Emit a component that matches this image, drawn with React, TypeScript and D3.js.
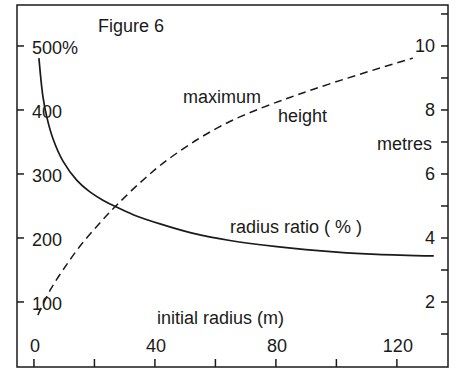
import { useEffect, useRef } from "react"
import * as d3 from "d3"

// radius ratio (%) against initial radius (m)
const ratioRadius = [1.65, 3.0, 4.3, 6.3, 9.6, 14.2, 18.5, 22.8, 26.1, 33, 41.7, 52, 64.8, 80.3, 100.2, 113.4, 132.2]
const ratioValue = [481, 420, 388, 355, 320, 290, 272, 259, 251, 236, 222, 208, 196, 186.5, 178, 174.5, 172]

// maximum height (metres) against initial radius (m)
const heightRadius = [1.3, 5.3, 9.6, 15.2, 21.8, 27.4, 35.0, 42.6, 53.9, 64.8, 75.7, 84.6, 92.2, 103.5, 114.4, 125.3]
const heightValue = [1.59, 2.36, 3.0, 3.74, 4.47, 5.03, 5.72, 6.33, 7.07, 7.64, 8.08, 8.39, 8.64, 8.99, 9.31, 9.62]

const xTicks = [0, 20, 40, 60, 80, 100, 120]
const xLabels = [0, 40, 80, 120]
const leftTicks = [100, 200, 300, 400, 500]
const leftLabels = ["100", "200", "300", "400", "500%"]
const rightTicks = [1, 2, 3, 4, 5, 6, 7, 8, 9, 10, 11]
const rightLabels = [2, 4, 6, 8, 10]

export default function App() {
  const svgRef = useRef<SVGSVGElement>(null)

  useEffect(() => {
    if (!svgRef.current) return
    const width = 457
    const height = 369
    const left = 17
    const right = 448
    const top = 5
    const bottom = 367
    const ink = "#1a1a1a"
    const font = "'Liberation Sans', Arial, sans-serif"

    const svg = d3.select(svgRef.current).attr("width", width).attr("height", height)
    svg.selectAll("*").remove()

    const x = d3.scaleLinear().domain([-5.6, 136.9]).range([left, right])
    const yL = d3.scaleLinear().domain([-1.6, 564]).range([bottom, top])
    const yR = d3.scaleLinear().domain([-0.031, 11.28]).range([bottom, top])

    svg.append("rect").attr("width", width).attr("height", height).attr("fill", "white")

    svg
      .append("rect")
      .attr("x", left)
      .attr("y", top)
      .attr("width", right - left)
      .attr("height", bottom - top)
      .attr("fill", "none")
      .attr("stroke", ink)
      .attr("stroke-width", 1.5)

    // ticks
    svg
      .selectAll(".xt")
      .data(xTicks)
      .enter()
      .append("line")
      .attr("x1", (d) => x(d))
      .attr("x2", (d) => x(d))
      .attr("y1", bottom)
      .attr("y2", bottom - 8)
      .attr("stroke", ink)
      .attr("stroke-width", 1.5)

    svg
      .selectAll(".lt")
      .data(leftTicks)
      .enter()
      .append("line")
      .attr("x1", left)
      .attr("x2", left + 7)
      .attr("y1", (d) => yL(d))
      .attr("y2", (d) => yL(d))
      .attr("stroke", ink)
      .attr("stroke-width", 1.5)

    svg
      .selectAll(".rt")
      .data(rightTicks)
      .enter()
      .append("line")
      .attr("x1", right)
      .attr("x2", right - 7)
      .attr("y1", (d) => yR(d))
      .attr("y2", (d) => yR(d))
      .attr("stroke", ink)
      .attr("stroke-width", 1.5)

    const txt = (s: string, tx: number, ty: number, anchor = "start") =>
      svg
        .append("text")
        .attr("x", tx)
        .attr("y", ty)
        .attr("text-anchor", anchor)
        .attr("font-family", font)
        .attr("font-size", "18px")
        .attr("fill", ink)
        .text(s)

    xLabels.forEach((d) => txt(String(d), x(d) + 1, 352, "middle"))
    leftTicks.forEach((d, i) => txt(leftLabels[i], 32, yL(d) + 8))
    rightLabels.forEach((d) => txt(String(d), 435, yR(d) + 6.5, "end"))

    txt("Figure 6", 98, 32)
    txt("maximum", 183, 103)
    txt("height", 278, 122)
    txt("metres", 432, 150, "end")
    txt("radius ratio ( % )", 230, 233)
    txt("initial radius (m)", 157, 324)

    const ratioLine = d3
      .line<number>()
      .x((d, i) => x(ratioRadius[i]))
      .y((d) => yL(d))
      .curve(d3.curveCatmullRom.alpha(0.5))

    svg
      .append("path")
      .attr("d", ratioLine(ratioValue))
      .attr("fill", "none")
      .attr("stroke", ink)
      .attr("stroke-width", 1.7)

    const heightLine = d3
      .line<number>()
      .x((d, i) => x(heightRadius[i]))
      .y((d) => yR(d))
      .curve(d3.curveCatmullRom.alpha(0.5))

    svg
      .append("path")
      .attr("d", heightLine(heightValue))
      .attr("fill", "none")
      .attr("stroke", ink)
      .attr("stroke-width", 1.5)
      .attr("stroke-dasharray", "8,5")
  }, [])

  return <svg ref={svgRef} style={{ position: "absolute", left: 0, top: 0 }} />
}
